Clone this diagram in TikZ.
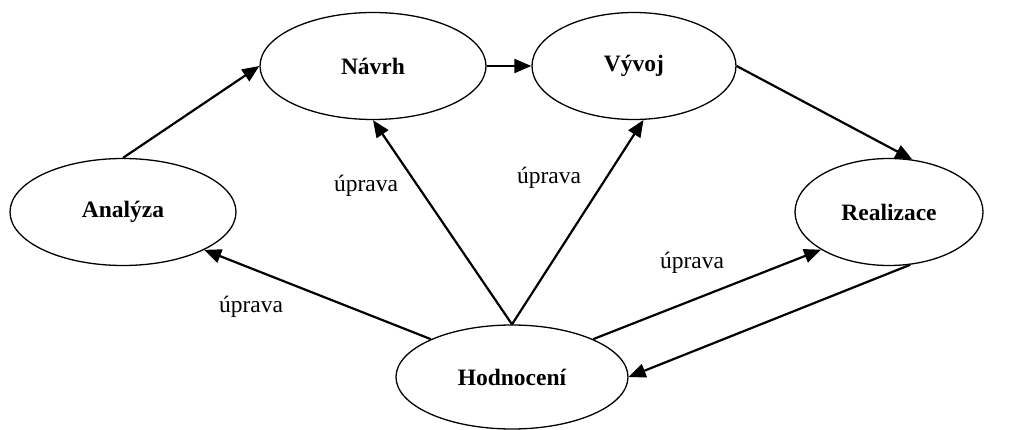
\documentclass[tikz,border=0pt]{standalone}
\usepackage{fontspec}
\setmainfont{Liberation Serif}
\usetikzlibrary{shapes.geometric,arrows.meta}

\begin{document}
\begin{tikzpicture}[x=1pt,y=-1pt,
    stage/.style={draw,ellipse,line width=1.3pt,minimum height=107pt,
      font=\fontsize{23.5}{27}\selectfont\bfseries},
    flow/.style={-{Triangle[length=17pt,width=14pt]},line width=2.2pt},
    note/.style={font=\fontsize{23.5}{27}\selectfont}]
  \useasboundingbox (0,0) rectangle (1014,430);
  % phases
  \node[stage,minimum width=226pt] (navrh) at (373,66) {Návrh};
  \node[stage,minimum width=204pt] (vyvoj) at (634,66) {Vývoj};
  \node[stage,minimum width=226pt] (analyza) at (123,212) {Analýza};
  \node[stage,minimum width=188pt] (realizace) at (889,212) {Realizace};
  \node[stage,minimum width=232pt,minimum height=104pt] (hodnoceni) at (512,377) {Hodnocení};
  % main flow
  \draw[flow] (analyza.north) -- (navrh.west);
  \draw[flow] (navrh.east) -- (vyvoj.west);
  \draw[flow] (vyvoj.east) -- (realizace.66);
  \draw[flow] (realizace.-68) -- (hodnoceni.east);
  % feedback
  \draw[flow] (hodnoceni.north) -- (navrh.south);
  \draw[flow] (hodnoceni.north) -- (vyvoj.-80);
  \draw[flow] (hodnoceni.155) -- (analyza.-25);
  \draw[flow] (hodnoceni.25) -- (realizace.209);
  \node[note] (u1) at (366,186) {úprava};
  \node[note] (u2) at (549,178) {úprava};
  \node[note] (u3) at (692,263) {úprava};
  \node[note] (u4) at (251,307) {úprava};
\end{tikzpicture}
\end{document}
